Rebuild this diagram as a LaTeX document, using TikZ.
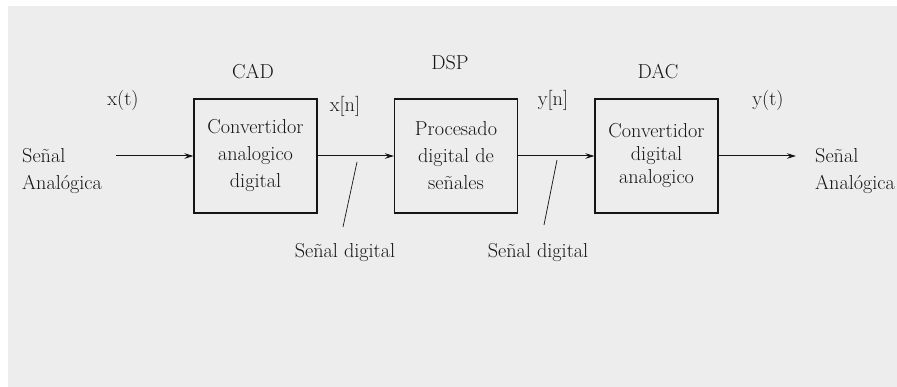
\documentclass[tikz,border=0pt]{standalone}
\usetikzlibrary{arrows.meta}
\definecolor{paper}{HTML}{EDEDED}
\definecolor{ink}{HTML}{151515}
\begin{document}
\begin{tikzpicture}[x=1pt,y=-1pt,
  every node/.style={text=ink,font=\fontsize{20.2}{27}\selectfont,inner sep=0pt},
  block/.style={draw=ink,line width=1.1pt,minimum width=123pt,minimum height=114pt,align=center},
  sig/.style={draw=ink,line width=1pt,-{Stealth[length=9pt,width=5.5pt]}},
  pointer/.style={draw=ink,line width=0.7pt},
  lbl/.style={align=left,anchor=west}]
  % page
  \useasboundingbox (0,0) rectangle (897,387);
  \fill[paper] (8,6) rectangle (897,387);

  % processing blocks
  \node[block] (cad) at (255.5,156) {Convertidor\\analogico\\digital};
  \node[block] (dsp) at (456,156) {Procesado\\digital de\\señales};
  \node[block,font=\fontsize{20.2}{23}\selectfont] (dac) at (656.5,156) {Convertidor\\digital\\analogico};

  % block titles
  \node (tcad) at (253,72) {CAD};
  \node (tdsp) at (450,63) {DSP};
  \node (tdac) at (658,72) {DAC};

  % signal names
  \node (xt) at (123,100) {x(t)};
  \node (xn) at (345,106) {x[n]};
  \node (yn) at (553,100) {y[n]};
  \node (yt) at (768,100) {y(t)};

  % analog ends
  \node[lbl] (ain) at (22,171) {Señal\\Analógica};
  \node[lbl] (aout) at (815,171) {Señal\\Analógica};
  \coordinate (src) at (116,156);
  \coordinate (dst) at (796,156);

  % signal path
  \draw[sig] (src) -- (cad.west);
  \draw[sig] (cad.east) -- (dsp.west);
  \draw[sig] (dsp.east) -- (dac.west);
  \draw[sig] (dac.east) -- (dst);

  % digital signal callouts
  \node (dg1) at (345,253) {Señal digital};
  \node (dg2) at (538,253) {Señal digital};
  \coordinate (p1a) at (343,227);
  \coordinate (p1b) at (357,162);
  \coordinate (p2a) at (544,225);
  \coordinate (p2b) at (557,160);
  \draw[pointer] (p1a) -- (p1b);
  \draw[pointer] (p2a) -- (p2b);
\end{tikzpicture}
\end{document}
